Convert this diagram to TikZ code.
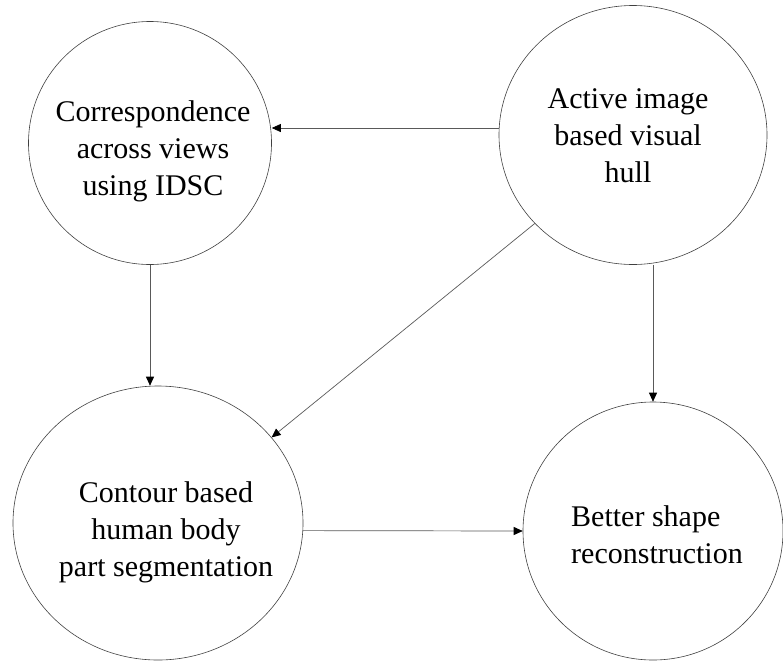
\documentclass[tikz,border=0pt]{standalone}
\usepackage{fontspec}
\setmainfont{Liberation Serif}
\usetikzlibrary{arrows.meta,shapes.geometric}

\begin{document}
\begin{tikzpicture}[x=1pt,y=-1pt]
		\tikzstyle{every node}=[font=\fontsize{30}{37}\selectfont]
		\tikzstyle{stage}=[draw=black!75, ellipse, inner sep=0pt, line width=0.6pt]
		\tikzstyle{caption}=[inner sep=0pt, align=center]
		\tikzstyle{flow}=[draw=black!65, line width=0.7pt, -{Triangle[length=9pt,width=8pt,black]}]
		
		\useasboundingbox (0,0) rectangle (783,662);
		
		% the four stages
		\node[stage, minimum width=243, minimum height=243] (corr) at (150,143) {};
		\node[stage, minimum width=268, minimum height=259] (avh) at (633,135) {};
		\node[stage, minimum width=290, minimum height=274] (seg) at (158,523) {};
		\node[stage, minimum width=260, minimum height=258] (rec) at (653,531) {};
		
		\node[caption] (corr-text) at ([shift={(3,8)}]corr.center) {Correspondence\\across views\\using IDSC};
		\node[caption] (avh-text) at ([shift={(-5,1)}]avh.center) {Active image\\based visual\\hull};
		\node[caption] (seg-text) at ([shift={(8,9)}]seg.center) {Contour based\\human body\\part segmentation};
		\node[caption, align=left] (rec-text) at ([shift={(4,4)}]rec.center) {Better shape\\reconstruction};
		
		% connectors
		\draw[flow] (avh.west |- 0,128) -- (corr.east |- 0,128);
		\draw[flow] (corr.south) -- (seg.north -| corr.south);
		\draw[flow] (avh.-138) -- (seg.37);
		\draw[flow] (avh.south -| rec.north) -- (rec.north);
		\draw[flow] (seg.-3) -- (rec.west);
		
\end{tikzpicture}
\end{document}
